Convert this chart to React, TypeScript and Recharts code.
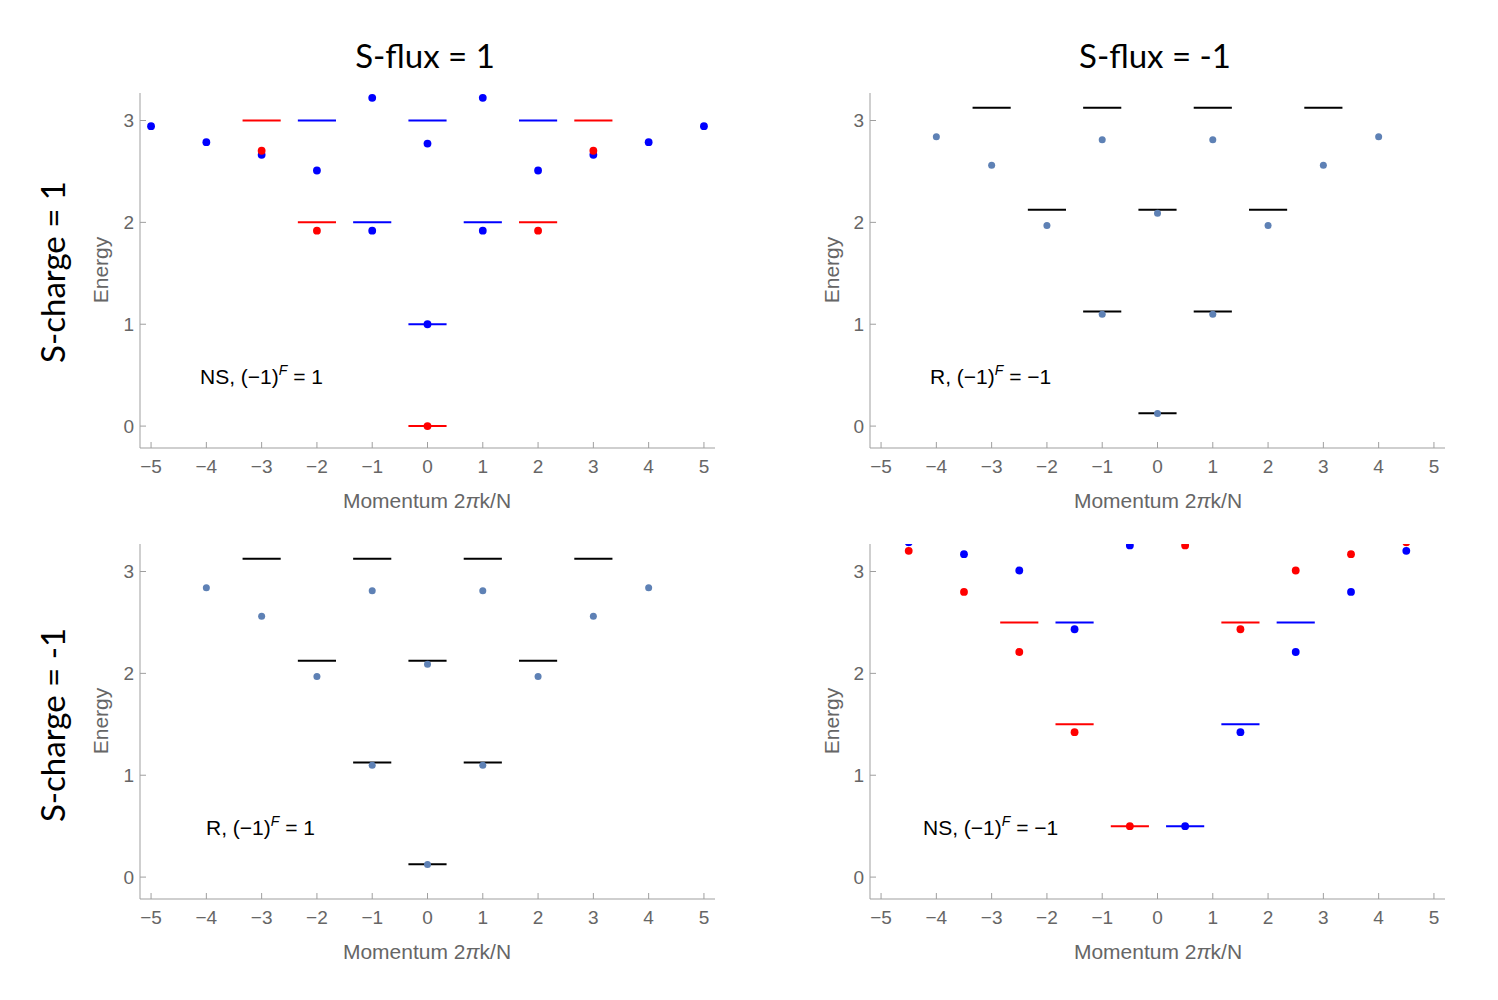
import { ScatterChart, Scatter, XAxis, YAxis, ReferenceLine } from "recharts";

type Pt = [number, number]; // [momentum k, energy]

const kTicks = [-5, -4, -3, -2, -1, 0, 1, 2, 3, 4, 5];
const eTicks = [0, 1, 2, 3];

// S-flux = 1, S-charge = 1 : NS, (-1)^F = 1
const nsEvenBlueDots: Pt[] = [
  [-5, 2.944], [-4, 2.787], [-3, 2.663], [-2, 2.509], [-1, 3.223], [-1, 1.918],
  [0, 2.774], [0, 1.0], [1, 3.223], [1, 1.918], [2, 2.509], [3, 2.663], [4, 2.787], [5, 2.944],
];
const nsEvenRedDots: Pt[] = [[-3, 2.703], [-2, 1.918], [0, 0], [2, 1.918], [3, 2.703]];
const nsEvenBlueLevels: Pt[] = [[-2, 3], [-1, 2], [0, 3], [0, 1], [1, 2], [2, 3]];
const nsEvenRedLevels: Pt[] = [[-3, 3], [-2, 2], [0, 0], [2, 2], [3, 3]];

// S-flux = -1, S-charge = 1 : R, (-1)^F = -1   (and S-flux = 1, S-charge = -1 : R, (-1)^F = 1)
const rDots: Pt[] = [
  [-4, 2.84], [-3, 2.561], [-2, 1.97], [-1, 2.81], [-1, 1.098], [0, 2.09], [0, 0.124],
  [1, 2.81], [1, 1.098], [2, 1.97], [3, 2.561], [4, 2.84],
];
const rLevels: Pt[] = [
  [-3, 3.125], [-1, 3.125], [1, 3.125], [3, 3.125],
  [-2, 2.125], [0, 2.125], [2, 2.125], [-1, 1.125], [1, 1.125], [0, 0.125],
];

// S-flux = -1, S-charge = -1 : NS, (-1)^F = -1
const nsOddBlueDots: Pt[] = [
  [-4.5, 3.285], [-3.5, 3.17], [-2.5, 3.01], [-1.5, 2.433], [-0.5, 3.256],
  [0.5, 0.5], [1.5, 1.423], [2.5, 2.21], [3.5, 2.8], [4.5, 3.203],
];
const nsOddRedDots: Pt[] = [
  [-4.5, 3.203], [-3.5, 2.8], [-2.5, 2.21], [-1.5, 1.423], [-0.5, 0.5],
  [0.5, 3.256], [1.5, 2.433], [2.5, 3.01], [3.5, 3.17], [4.5, 3.285],
];
const nsOddBlueLevels: Pt[] = [[-1.5, 2.5], [0.5, 0.5], [1.5, 1.5], [2.5, 2.5]];
const nsOddRedLevels: Pt[] = [[-2.5, 2.5], [-1.5, 1.5], [-0.5, 0.5], [1.5, 2.5]];

const BLUE = "#0000ff";
const RED = "#ff0000";
const STEEL = "#5e81b5";
const BLACK = "#000000";
const AXIS = "#9f9f9f";
const LABEL = "#666666";
const FONT = "'Liberation Sans', Arial, sans-serif";
const TITLE_FONT = "Lato, 'Open Sans', sans-serif";

const PLOT_W = 575;
const PLOT_H = 355;
const Y_AXIS_W = 40;
const X_AXIS_H = 45;
const PAD = 10;
const HALF = 0.345;

const toPoints = (pts: Pt[]) => pts.map(([k, e]) => ({ k, e }));
const fmt = (v: number) => String(v).replace("-", "\u2212");

interface DotSet { pts: Pt[]; color: string; r: number }
interface LevelSet { pts: Pt[]; color: string }

function Panel({ left, top, dots, levels }: { left: number; top: number; dots: DotSet[]; levels: LevelSet[] }) {
  return (
    <div style={{ position: "absolute", left: left - Y_AXIS_W, top: top - PAD }}>
      <ScatterChart
        width={PLOT_W + Y_AXIS_W + PAD}
        height={PLOT_H + PAD + X_AXIS_H}
        margin={{ top: PAD, right: PAD, bottom: 0, left: 0 }}
      >
        <XAxis
          type="number" dataKey="k" domain={[-5.2, 5.2]} allowDataOverflow
          ticks={kTicks} interval={0} height={X_AXIS_H}
          stroke={AXIS} tickSize={-6} tickMargin={18} tickFormatter={fmt}
          tick={{ fill: LABEL, fontSize: 19, fontFamily: FONT }}
        />
        <XAxis
          xAxisId="top" orientation="top" type="number" domain={[-5.2, 5.2]}
          allowDataOverflow height={0} tick={false} tickLine={false} stroke={AXIS}
        />
        <YAxis
          type="number" dataKey="e" domain={[-0.215, 3.27]} allowDataOverflow
          ticks={eTicks} interval={0} width={Y_AXIS_W}
          stroke={AXIS} tickSize={-6} tickMargin={12} tickFormatter={fmt}
          tick={{ fill: LABEL, fontSize: 19, fontFamily: FONT }}
        />
        <YAxis
          yAxisId="right" orientation="right" type="number" domain={[-0.215, 3.27]}
          allowDataOverflow width={0} tick={false} tickLine={false} stroke={AXIS}
        />
        {levels.flatMap((set, si) =>
          set.pts.map(([k, e], i) => (
            <ReferenceLine
              key={`l${si}-${i}`}
              segment={[{ x: k - HALF, y: e }, { x: k + HALF, y: e }]}
              stroke={set.color}
              strokeWidth={2}
            />
          ))
        )}
        {dots.map((set, si) => (
          <Scatter
            key={`d${si}`}
            data={toPoints(set.pts)}
            fill={set.color}
            isAnimationActive={false}
            shape={(p: any) => <circle cx={p.cx} cy={p.cy} r={set.r} fill={set.color} />}
          />
        ))}
      </ScatterChart>
    </div>
  );
}

function InsetLabel({ x, y, lead, tail }: { x: number; y: number; lead: string; tail: string }) {
  return (
    <text x={x} y={y} fontFamily={FONT} fontSize={21} fill={BLACK}>
      <tspan>{lead}</tspan>
      <tspan dy={-9} fontSize={14} fontStyle="italic">F</tspan>
      <tspan dy={9}>{tail}</tspan>
    </text>
  );
}

function AxisLabels({ cx, plotTop }: { cx: number; plotTop: number }) {
  const ex = cx - 327;
  const ey = plotTop + 177;
  return (
    <g fontFamily={FONT} fill={LABEL} fontSize={21}>
      <text x={cx} y={plotTop + 407} textAnchor="middle" dominantBaseline="central">
        Momentum 2<tspan fontStyle="italic">π</tspan>k/N
      </text>
      <text x={ex} y={ey} textAnchor="middle" dominantBaseline="central" transform={`rotate(-90 ${ex} ${ey})`}>
        Energy
      </text>
    </g>
  );
}

export default function App() {
  return (
    <div style={{ position: "absolute", left: 0, top: 0, width: 1498, height: 1000, background: "#fff" }}>
      <Panel
        left={140} top={93}
        levels={[{ pts: nsEvenBlueLevels, color: BLUE }, { pts: nsEvenRedLevels, color: RED }]}
        dots={[{ pts: nsEvenBlueDots, color: BLUE, r: 3.9 }, { pts: nsEvenRedDots, color: RED, r: 3.9 }]}
      />
      <Panel
        left={870} top={93}
        levels={[{ pts: rLevels, color: BLACK }]}
        dots={[{ pts: rDots, color: STEEL, r: 3.5 }]}
      />
      <Panel
        left={140} top={544}
        levels={[{ pts: rLevels, color: BLACK }]}
        dots={[{ pts: rDots, color: STEEL, r: 3.5 }]}
      />
      <Panel
        left={870} top={544}
        levels={[{ pts: nsOddBlueLevels, color: BLUE }, { pts: nsOddRedLevels, color: RED }]}
        dots={[{ pts: nsOddBlueDots, color: BLUE, r: 3.9 }, { pts: nsOddRedDots, color: RED, r: 3.9 }]}
      />
      <svg width={1498} height={1000} style={{ position: "absolute", left: 0, top: 0, pointerEvents: "none" }}>
        <g fontFamily={TITLE_FONT} fontSize={33} fill={BLACK}>
          <text x={425} y={55} textAnchor="middle" dominantBaseline="central">S-flux = 1</text>
          <text x={1155} y={55} textAnchor="middle" dominantBaseline="central">S-flux = -1</text>
          <text x={52} y={272} textAnchor="middle" dominantBaseline="central" transform="rotate(-90 52 272)">S-charge = 1</text>
          <text x={52} y={725} textAnchor="middle" dominantBaseline="central" transform="rotate(-90 52 725)">S-charge = -1</text>
        </g>
        <AxisLabels cx={427} plotTop={93} />
        <AxisLabels cx={1158} plotTop={93} />
        <AxisLabels cx={427} plotTop={544} />
        <AxisLabels cx={1158} plotTop={544} />
        <InsetLabel x={200} y={384} lead="NS, (−1)" tail=" = 1" />
        <InsetLabel x={930} y={384} lead="R, (−1)" tail=" = −1" />
        <InsetLabel x={206} y={835} lead="R, (−1)" tail=" = 1" />
        <InsetLabel x={923} y={835} lead="NS, (−1)" tail=" = −1" />
      </svg>
    </div>
  );
}
